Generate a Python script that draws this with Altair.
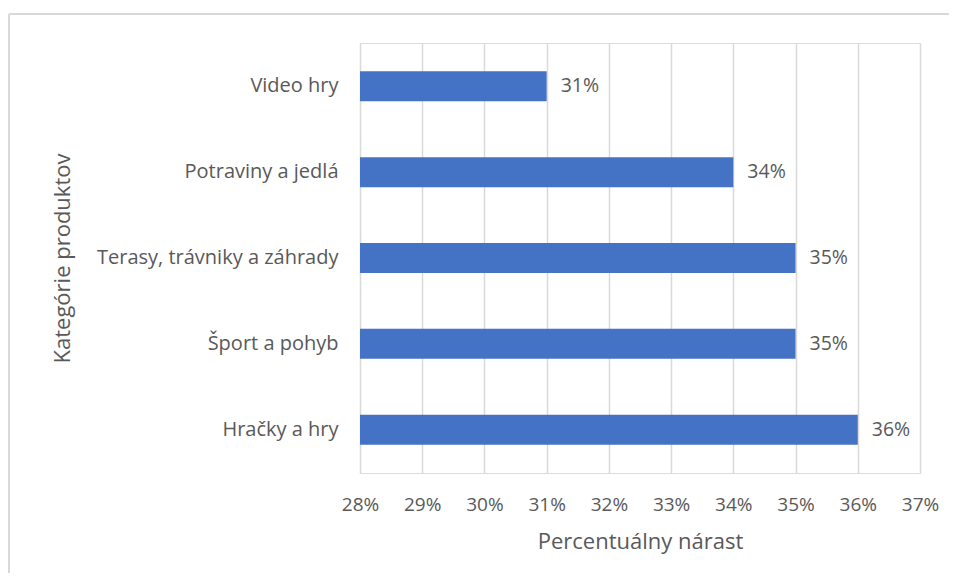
import altair as alt
import pandas as pd

categories = ["Video hry", "Potraviny a jedlá", "Terasy, trávniky a záhrady", "Šport a pohyb", "Hračky a hry"]
values = [0.31, 0.34, 0.35, 0.35, 0.36]
labels = ["31%", "34%", "35%", "35%", "36%"]
ticks = [0.28, 0.29, 0.30, 0.31, 0.32, 0.33, 0.34, 0.35, 0.36, 0.37]

df = pd.DataFrame({"cat": categories, "val": values, "lab": labels})

FONT = "Open Sans"
GRAY = "#595959"

x = alt.X("val:Q", scale=alt.Scale(domain=[0.28, 0.37], nice=False, zero=False),
          axis=alt.Axis(format=".0%", values=ticks, labelFlush=False,
                        title="Percentuálny nárast", domain=False, ticks=False,
                        grid=True, gridColor="#d9d9d9", gridWidth=1.5,
                        labelFont=FONT, labelFontSize=19, labelColor=GRAY, labelPadding=22,
                        titleFont=FONT, titleFontSize=22, titleColor=GRAY, titleFontWeight="normal",
                        titlePadding=17))
y = alt.Y("cat:N", sort=categories,
          scale=alt.Scale(paddingInner=0.65, paddingOuter=0.33),
          axis=alt.Axis(title="Kategórie produktov", domain=False, ticks=False, grid=False,
                        labelFont=FONT, labelFontSize=20, labelColor=GRAY, labelPadding=22,
                        labelLimit=400,
                        titleFont=FONT, titleFontSize=22, titleColor=GRAY, titleFontWeight="normal",
                        titleX=-298, titleY=215, titleBaseline="middle", titleAlign="center"))

bars = alt.Chart(df).mark_bar(color="#4472C4").encode(
    x=x,
    x2=alt.datum(0.28),
    y=y,
)

text = alt.Chart(df).mark_text(align="left", baseline="middle", dx=14, font=FONT, fontSize=19.5, color=GRAY).encode(
    x=alt.X("val:Q"), y=alt.Y("cat:N", sort=categories), text="lab:N"
)

frame_top = alt.Chart(df).mark_rule(color="#d9d9d9", strokeWidth=2, clip=False).encode(
    x=alt.value(-351), x2=alt.value(620), y=alt.value(-29)
)
frame_left = alt.Chart(df).mark_rule(color="#d9d9d9", strokeWidth=2, clip=False).encode(
    x=alt.value(-351), y=alt.value(-29), y2=alt.value(540)
)

chart = alt.layer(bars, text, frame_top, frame_left).properties(
    width=560, height=430,
    autosize=alt.AutoSizeParams(type="none"),
    padding={"left": 352, "top": 35, "right": 29, "bottom": 100},
).configure_view(stroke=None).configure(background="white")

chart.save("out.html", embed_options={"renderer": "svg", "actions": False})
